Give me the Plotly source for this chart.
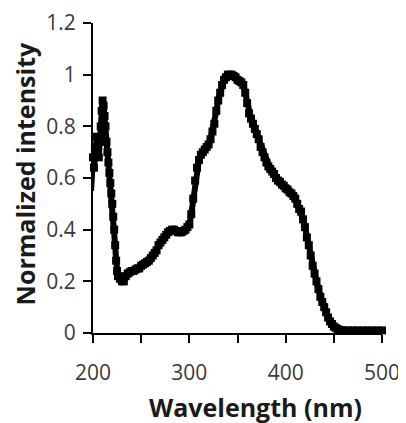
import plotly.graph_objects as go

# absorbance-style spectrum
wavelength = [
    198, 199, 200, 201, 202, 203, 204, 205, 206, 207, 208, 209, 210, 211, 212,
    213, 214, 215, 216, 217, 218, 219, 220, 221, 222, 223, 224, 225, 226, 228,
    230, 232, 234, 236, 238, 240, 242, 244, 246, 248, 250, 252, 254, 256, 258,
    260, 262, 264, 266, 268, 270, 272, 274, 276, 278, 280, 282, 284, 286, 288,
    290, 292, 294, 296, 298, 300, 302, 304, 306, 308, 310, 312, 314, 316, 318,
    320, 322, 324, 326, 328, 330, 332, 334, 336, 338, 340, 342, 344, 346, 348,
    350, 352, 354, 356, 358, 360, 362, 364, 366, 368, 370, 372, 374, 376, 378,
    380, 382, 384, 386, 388, 390, 392, 394, 396, 398, 400, 402, 404, 406, 408,
    410, 412, 414, 416, 418, 420, 422, 424, 426, 428, 430, 432, 434, 436, 438,
    440, 442, 444, 446, 448, 450, 452, 454, 456, 458, 460, 465, 470, 475, 480,
    485, 490, 495, 500,
]
intensity = [
    0.55, 0.60, 0.68, 0.64, 0.72, 0.70, 0.76, 0.72, 0.68, 0.74, 0.80, 0.86, 0.90, 0.88, 0.84,
    0.80, 0.74, 0.70, 0.66, 0.62, 0.58, 0.54, 0.50, 0.45, 0.40, 0.34, 0.28, 0.24, 0.22, 0.21,
    0.20, 0.20, 0.22, 0.23, 0.235, 0.24, 0.24, 0.245, 0.25, 0.25, 0.26, 0.265, 0.27, 0.275, 0.28,
    0.29, 0.30, 0.31, 0.32, 0.34, 0.35, 0.36, 0.37, 0.38, 0.39, 0.395, 0.40, 0.40, 0.395, 0.39,
    0.39, 0.39, 0.395, 0.40, 0.41, 0.42, 0.46, 0.52, 0.59, 0.64, 0.67, 0.69, 0.70, 0.71, 0.72,
    0.73, 0.75, 0.78, 0.81, 0.86, 0.90, 0.93, 0.96, 0.98, 0.99, 1.00, 1.00, 1.00, 0.995, 0.99,
    0.98, 0.975, 0.97, 0.96, 0.93, 0.89, 0.85, 0.83, 0.81, 0.79, 0.77, 0.75, 0.72, 0.70, 0.68,
    0.66, 0.645, 0.635, 0.625, 0.615, 0.60, 0.59, 0.585, 0.575, 0.57, 0.56, 0.555, 0.545, 0.54, 0.53,
    0.52, 0.50, 0.48, 0.47, 0.44, 0.41, 0.37, 0.34, 0.30, 0.26, 0.23, 0.20, 0.17, 0.14, 0.12,
    0.10, 0.08, 0.06, 0.045, 0.035, 0.025, 0.02, 0.015, 0.012, 0.01, 0.01, 0.01, 0.01, 0.01, 0.01,
    0.01, 0.01, 0.01, 0.01,
]

x_ticks = [200, 250, 300, 350, 400, 450, 500]
x_tick_text = ["200", "", "300", "", "400", "", "500"]
y_ticks = [0, 0.2, 0.4, 0.6, 0.8, 1, 1.2]

tick_font = dict(family="Open Sans, sans-serif", size=21, color="#3a3a3a")
title_font = dict(family="Open Sans, sans-serif", size=25, color="#1a1a1a")

fig = go.Figure(go.Scatter(
    x=wavelength,
    y=intensity,
    mode="lines+markers",
    line=dict(color="black", width=6),
    marker=dict(symbol="square", size=8, color="black"),
    cliponaxis=False,
    showlegend=False,
))

fig.update_xaxes(
    range=[200, 500],
    tickvals=x_ticks,
    ticktext=x_tick_text,
    ticks="outside",
    ticklen=8,
    tickwidth=2,
    tickcolor="black",
    ticklabelstandoff=12,
    ticklabeloverflow="allow",
    showline=True,
    linecolor="black",
    linewidth=2,
    showgrid=False,
    zeroline=False,
    tickfont=tick_font,
    automargin=False,
)
fig.update_yaxes(
    range=[0, 1.2],
    tickvals=y_ticks,
    ticks="outside",
    ticklen=8,
    tickwidth=2,
    tickcolor="black",
    ticklabelstandoff=3,
    ticklabeloverflow="allow",
    showline=True,
    linecolor="black",
    linewidth=2,
    showgrid=False,
    zeroline=False,
    tickfont=tick_font,
    automargin=False,
)

fig.add_annotation(
    text="<b>Wavelength (nm)</b>",
    xref="x", yref="paper", x=369, y=0,
    yanchor="middle", yshift=-74,
    showarrow=False, font=title_font,
)
fig.add_annotation(
    text="<b>Normalized intensity</b>",
    xref="paper", yref="y", x=0, y=0.614,
    xanchor="center", xshift=-68,
    textangle=-90,
    showarrow=False, font=title_font,
)

# the page body has an 8px margin, so the figure is a bit smaller than the window
fig.update_layout(
    width=398,
    height=415,
    margin=dict(l=85, r=24, t=15, b=90),
    paper_bgcolor="white",
    plot_bgcolor="white",
)

fig.write_html("out.html")
